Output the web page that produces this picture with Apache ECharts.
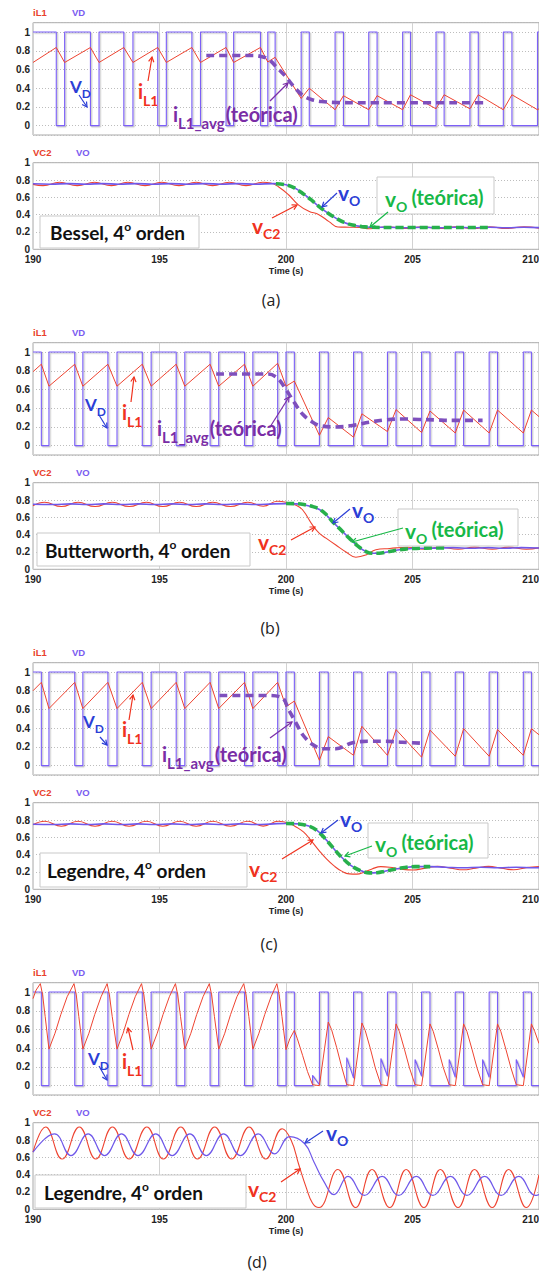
<!DOCTYPE html>
<html><head><meta charset="utf-8">
<script src="https://cdn.jsdelivr.net/npm/echarts@6/dist/echarts.min.js"></script>
<style>html,body{margin:0;padding:0;background:#fff}#c{width:539px;height:1281px}</style>
</head><body><div id="c"></div>
<script>
// ---------------- DATA ----------------
const xTicks = [190, 195, 200, 205, 210];
const yTicksTop = [0, 0.2, 0.4, 0.6, 0.8, 1];
const yTicksBot = [0, 0.2, 0.4, 0.6, 0.8, 1];

// Panel (a) Bessel
const vdEdgesA = [190.92,191.25,192.27,192.61,193.59,193.95,194.93,195.27,196.28,196.62,197.63,197.93,198.99,199.28,199.57,200.60,200.92,201.94,202.27,203.27,203.60,204.61,204.92,205.93,206.25,207.27,207.60,208.59,208.93,209.94];
const iL1A = [[190,0.675],[190.92,0.835],[191.25,0.675],[192.27,0.835],[192.61,0.675],[193.59,0.835],[193.95,0.675],[194.93,0.835],[195.27,0.675],[196.28,0.835],[196.62,0.675],[197.63,0.835],[197.93,0.675],[198.99,0.835],[199.28,0.68],[199.57,0.73],[200.60,0.29],[200.92,0.40],[201.94,0.17],[202.27,0.32],[203.27,0.17],[203.60,0.32],[204.61,0.17],[204.92,0.33],[205.93,0.18],[206.25,0.33],[207.27,0.18],[207.60,0.33],[208.59,0.17],[208.93,0.33],[209.94,0.17],[210,0.18]];
const avgA = [[196.85,0.75],[198.7,0.75],[199.0,0.74],[199.3,0.71],[199.65,0.62],[200.0,0.52],[200.3,0.42],[200.63,0.33],[201.0,0.28],[201.4,0.258],[202.0,0.247],[203.0,0.245],[207.8,0.245]];
const vc2A = [[190,0.75],[190.4,0.735],[191.05,0.774],[191.75,0.735],[192.43,0.774],[193.1,0.735],[193.75,0.774],[194.43,0.735],[195.09,0.774],[195.77,0.735],[196.45,0.774],[197.1,0.735],[197.76,0.774],[198.42,0.735],[199.08,0.774],[199.4,0.765],[199.7,0.723],[200.1,0.63],[200.5,0.51],[200.9,0.44],[201.3,0.40],[201.7,0.32],[202.05,0.258],[202.5,0.255],[202.9,0.253],[203.3,0.237],[204.0,0.26],[204.7,0.24],[205.4,0.26],[206.05,0.24],[206.7,0.26],[207.4,0.24],[208.05,0.26],[208.7,0.24],[209.4,0.26],[210,0.245]];
const voA = [[190,0.757],[190.7,0.752],[191.4,0.758],[192.1,0.752],[192.75,0.758],[193.4,0.752],[194.1,0.758],[194.75,0.752],[195.45,0.758],[196.1,0.752],[196.8,0.758],[197.45,0.752],[198.1,0.758],[198.8,0.752],[199.5,0.758],[200.0,0.745],[200.33,0.71],[200.66,0.645],[201.0,0.57],[201.32,0.49],[201.65,0.42],[201.97,0.36],[202.3,0.31],[202.63,0.28],[203.0,0.262],[203.3,0.255],[204.0,0.255],[204.7,0.248],[205.4,0.255],[206.05,0.248],[206.7,0.255],[207.4,0.248],[208.05,0.255],[208.7,0.248],[209.4,0.255],[210,0.25]];
const voTheoA = [[199.6,0.757],[200.0,0.745],[200.33,0.71],[200.66,0.645],[201.0,0.57],[201.32,0.49],[201.65,0.42],[201.97,0.36],[202.3,0.31],[202.63,0.28],[203.0,0.262],[203.3,0.255],[204.0,0.252],[208.0,0.252]];

// Panel (b) Butterworth
const vdEdgesB = [190.33,190.63,191.65,191.97,192.96,193.32,194.32,194.67,195.66,196.0,197.0,197.34,198.36,198.69,199.67,200.0,200.33,201.32,201.67,202.67,203.0,204.01,204.35,205.36,205.69,206.69,207.02,208.03,208.36,209.38,209.7];
const iL1B = [[190,0.79],[190.33,0.87],[190.63,0.635],[191.65,0.87],[191.97,0.635],[192.96,0.87],[193.32,0.635],[194.32,0.87],[194.67,0.635],[195.66,0.87],[196.0,0.635],[197.0,0.87],[197.34,0.635],[198.36,0.87],[198.69,0.635],[199.67,0.88],[200.0,0.635],[200.33,0.69],[201.32,0.11],[201.67,0.30],[202.67,0.09],[203.0,0.34],[204.01,0.15],[204.35,0.385],[205.36,0.14],[205.69,0.37],[206.69,0.135],[207.02,0.38],[208.03,0.135],[208.36,0.38],[209.38,0.135],[209.7,0.38],[210,0.31]];
const avgB = [[197.24,0.765],[199.3,0.765],[199.67,0.72],[200.0,0.60],[200.33,0.46],[200.66,0.335],[201.0,0.26],[201.32,0.215],[201.97,0.20],[202.63,0.215],[203.28,0.25],[203.94,0.275],[204.6,0.285],[205.26,0.28],[205.92,0.275],[206.45,0.27],[207.77,0.27]];
const vc2B = [[190,0.735],[190.46,0.774],[191.12,0.725],[191.78,0.774],[192.45,0.725],[193.13,0.774],[193.8,0.725],[194.48,0.774],[195.13,0.725],[195.79,0.774],[196.45,0.725],[197.1,0.774],[197.8,0.725],[198.49,0.774],[199.1,0.728],[199.66,0.785],[200.0,0.775],[200.4,0.74],[200.66,0.685],[201.05,0.51],[201.32,0.415],[201.58,0.36],[201.97,0.28],[202.37,0.20],[202.76,0.14],[203.16,0.165],[203.55,0.225],[204.1,0.24],[204.8,0.255],[205.45,0.232],[206.1,0.256],[206.8,0.232],[207.45,0.256],[208.15,0.232],[208.8,0.256],[209.5,0.232],[210,0.248]];
const voB = [[190,0.752],[190.8,0.748],[191.5,0.756],[192.15,0.748],[192.8,0.756],[193.5,0.748],[194.15,0.756],[194.8,0.748],[195.5,0.756],[196.15,0.748],[196.8,0.756],[197.5,0.748],[198.15,0.756],[198.8,0.748],[199.5,0.756],[200.0,0.758],[200.4,0.755],[200.7,0.745],[201.05,0.72],[201.32,0.69],[201.58,0.63],[201.84,0.55],[202.17,0.455],[202.5,0.36],[202.83,0.27],[203.16,0.205],[203.42,0.185],[203.69,0.185],[204.0,0.2],[204.35,0.22],[205.0,0.24],[205.9,0.245],[206.6,0.25],[207.3,0.243],[208.0,0.25],[208.6,0.243],[209.3,0.25],[210,0.246]];
const voTheoB = [[200.0,0.76],[200.4,0.758],[200.7,0.748],[201.05,0.725],[201.32,0.695],[201.58,0.635],[201.84,0.55],[202.17,0.455],[202.5,0.36],[202.83,0.27],[203.16,0.205],[203.42,0.185],[203.69,0.185],[204.0,0.2],[204.35,0.22],[204.7,0.233],[205.0,0.24],[205.5,0.245],[206.3,0.247]];

// Panel (c) Legendre
const vdEdgesC = [190.33,190.63,191.65,191.97,192.96,193.32,194.32,194.67,195.66,196.0,197.0,197.34,198.36,198.69,199.67,200.0,200.33,201.32,201.67,202.67,203.0,204.01,204.35,205.36,205.69,206.69,207.02,208.03,208.36,209.38,209.7];
const iL1C = [[190,0.80],[190.33,0.89],[190.63,0.61],[191.65,0.89],[191.97,0.61],[192.96,0.89],[193.32,0.61],[194.32,0.89],[194.67,0.61],[195.66,0.89],[196.0,0.61],[197.0,0.89],[197.34,0.61],[198.36,0.89],[198.69,0.61],[199.67,0.89],[200.0,0.63],[200.33,0.69],[201.32,0.057],[201.67,0.31],[202.67,0.11],[203.0,0.42],[204.01,0.11],[204.35,0.385],[205.36,0.09],[205.69,0.38],[206.69,0.10],[207.02,0.395],[208.03,0.10],[208.36,0.385],[209.38,0.11],[209.7,0.395],[210,0.33]];
const avgC = [[197.37,0.75],[199.3,0.75],[199.87,0.72],[200.1,0.60],[200.4,0.455],[200.66,0.33],[201.05,0.225],[201.45,0.18],[201.97,0.18],[202.63,0.245],[203.28,0.26],[203.94,0.26],[204.6,0.25],[205.33,0.24]];
const vc2C = [[190,0.745],[190.46,0.785],[191.12,0.728],[191.78,0.785],[192.45,0.728],[193.13,0.785],[193.8,0.728],[194.48,0.785],[195.13,0.728],[195.79,0.785],[196.45,0.728],[197.1,0.785],[197.8,0.728],[198.49,0.785],[199.1,0.73],[199.7,0.785],[200.1,0.765],[200.4,0.72],[200.7,0.66],[201.0,0.56],[201.3,0.45],[201.6,0.35],[201.9,0.27],[202.2,0.21],[202.5,0.178],[202.8,0.175],[203.1,0.2],[203.4,0.235],[203.75,0.262],[204.1,0.255],[204.5,0.235],[205.0,0.222],[205.5,0.245],[206.0,0.265],[206.5,0.245],[207.0,0.225],[207.5,0.245],[208.0,0.265],[208.5,0.245],[209.0,0.225],[209.5,0.25],[210,0.262]];
const voC = [[190,0.752],[190.8,0.748],[191.5,0.756],[192.15,0.748],[192.8,0.756],[193.5,0.748],[194.15,0.756],[194.8,0.748],[195.5,0.756],[196.15,0.748],[196.8,0.756],[197.5,0.748],[198.15,0.756],[198.8,0.748],[199.5,0.756],[200.0,0.76],[200.5,0.755],[200.9,0.73],[201.2,0.685],[201.5,0.6],[201.8,0.5],[202.1,0.4],[202.4,0.315],[202.7,0.25],[203.0,0.21],[203.3,0.19],[203.6,0.192],[203.9,0.208],[204.3,0.232],[204.7,0.252],[205.1,0.262],[205.7,0.262],[206.3,0.255],[207.0,0.248],[207.7,0.255],[208.4,0.248],[209.1,0.255],[209.8,0.248],[210,0.25]];
const voTheoC = [[200.0,0.76],[200.5,0.755],[200.9,0.73],[201.2,0.685],[201.5,0.6],[201.8,0.5],[202.1,0.4],[202.4,0.315],[202.7,0.25],[203.0,0.21],[203.3,0.19],[203.6,0.192],[203.9,0.208],[204.3,0.232],[204.7,0.252],[205.1,0.262],[205.7,0.262]];

// Panel (d) Legendre (no theoretical curves)
const vdEdgesDPre = [190.33,190.63,191.65,191.97,192.96,193.32,194.32,194.67,195.66,196.0,197.0,197.34,198.36,198.69,199.67,200.0];
const vdDPost = [[200.33,1],[200.33,0],[201.05,0],[201.05,0.11],[201.32,0.01],[201.32,1],[201.67,1],[201.67,0],[202.4,0],[202.4,0.30],[202.67,0.08],[202.67,1],[203.0,1],[203.0,0],[203.75,0],[203.75,0.29],[204.01,0.10],[204.01,1],[204.35,1],[204.35,0],[205.1,0],[205.1,0.28],[205.36,0.10],[205.36,1],[205.69,1],[205.69,0],[206.45,0],[206.45,0.28],[206.69,0.09],[206.69,1],[207.02,1],[207.02,0],[207.77,0],[207.77,0.28],[208.03,0.09],[208.03,1],[208.36,1],[208.36,0],[209.1,0],[209.1,0.28],[209.38,0.09],[209.38,1],[209.7,1],[209.7,0],[210,0]];
const iL1D = [[190,0.93],[190.12,1.02],[190.29,1.09],[190.38,0.97],[190.48,0.74],[190.63,0.39],
[190.87,0.56],[191.1,0.76],[191.35,0.95],[191.62,1.09],[191.71,0.97],[191.81,0.74],[191.97,0.39],
[192.21,0.56],[192.44,0.76],[192.69,0.95],[192.93,1.09],[193.02,0.97],[193.13,0.74],[193.32,0.39],
[193.56,0.56],[193.79,0.76],[194.04,0.95],[194.29,1.09],[194.38,0.97],[194.49,0.74],[194.67,0.39],
[194.91,0.56],[195.14,0.76],[195.39,0.95],[195.63,1.09],[195.72,0.97],[195.83,0.74],[196.0,0.39],
[196.24,0.56],[196.47,0.76],[196.72,0.95],[196.97,1.09],[197.06,0.97],[197.17,0.74],[197.34,0.39],
[197.58,0.56],[197.81,0.76],[198.06,0.95],[198.33,1.09],[198.42,0.97],[198.53,0.74],[198.69,0.39],
[198.93,0.56],[199.16,0.76],[199.41,0.95],[199.64,1.09],[199.73,0.97],[199.84,0.74],[200.0,0.385],
[200.15,0.50],[200.33,0.59],[200.45,0.50],[200.66,0.32],[200.85,0.15],[201.05,0.01],[201.32,0.0],
[201.67,0.68],[201.8,0.6],[202.0,0.41],[202.2,0.2],[202.4,0.01],[202.67,0.0],
[203.0,0.67],[203.13,0.59],[203.33,0.40],[203.53,0.19],[203.75,0.01],[204.01,0.0],
[204.35,0.66],[204.48,0.58],[204.68,0.39],[204.88,0.19],[205.1,0.01],[205.36,0.0],
[205.69,0.66],[205.82,0.58],[206.02,0.39],[206.22,0.19],[206.45,0.01],[206.69,0.0],
[207.02,0.66],[207.15,0.58],[207.35,0.39],[207.55,0.19],[207.77,0.01],[208.03,0.0],
[208.36,0.66],[208.49,0.58],[208.69,0.39],[208.89,0.19],[209.1,0.01],[209.38,0.0],
[209.7,0.66],[209.83,0.58],[210,0.45]];
const vc2D = [[190,0.66],[190.5,0.95],[191.15,0.58],[191.83,0.95],[192.48,0.58],[193.14,0.95],[193.8,0.58],[194.5,0.95],[195.15,0.58],[195.84,0.95],[196.5,0.58],[197.18,0.95],[197.85,0.58],[198.54,0.95],[199.2,0.58],[199.85,0.93],[200.2,0.8],[200.5,0.52],[200.8,0.25],[201.05,0.07],[201.3,0.02],[202.05,0.46],[202.75,0.02],[203.4,0.46],[204.1,0.02],[204.75,0.46],[205.45,0.02],[206.1,0.46],[206.8,0.02],[207.45,0.46],[208.15,0.02],[208.8,0.46],[209.5,0.02],[210,0.4]];
const voD = [[190,0.66],[190.85,0.87],[191.5,0.62],[192.18,0.87],[192.83,0.62],[193.5,0.87],[194.15,0.62],[194.85,0.87],[195.5,0.62],[196.2,0.87],[196.85,0.62],[197.53,0.87],[198.2,0.62],[198.9,0.87],[199.55,0.64],[200.15,0.84],[200.73,0.76],[201.1,0.55],[201.5,0.32],[201.9,0.17],[202.45,0.38],[203.1,0.16],[203.8,0.38],[204.45,0.16],[205.15,0.38],[205.8,0.16],[206.5,0.38],[207.15,0.16],[207.85,0.38],[208.5,0.16],[209.2,0.38],[209.85,0.16],[210,0.17]];

// ---------------- BUILD ----------------
function stepPts(edges, startLevel) {
  let lv = startLevel; const p = [[190, lv]];
  for (const e of edges) { p.push([e, lv]); lv = 1 - lv; p.push([e, lv]); }
  return p;
}
function stepEnd(edges, startLevel) {
  const p = stepPts(edges, startLevel); p.push([210, p[p.length - 1][1]]); return p;
}
const panels = [
  { vd: stepEnd(vdEdgesA, 1), il: iL1A, avg: avgA, vc2: vc2A, vo: voA, voT: voTheoA },
  { vd: stepEnd(vdEdgesB, 1), il: iL1B, avg: avgB, vc2: vc2B, vo: voB, voT: voTheoB },
  { vd: stepEnd(vdEdgesC, 1), il: iL1C, avg: avgC, vc2: vc2C, vo: voC, voT: voTheoC },
  { vd: stepPts(vdEdgesDPre, 1).concat(vdDPost), il: iL1D, avg: null, vc2: vc2D, vo: voD, voT: null }
];

const RED = '#ee4431', VDC = '#7b5ef7', VOC = '#6f58ea', AVG = '#7e4fbd', GRN = '#27b04b';
const TICKFONT = 'Liberation Sans';
const OFF = [0, 320, 640, 960];
const grids = [], xAxes = [], yAxes = [], series = [];
const labelBase = { fontSize: 10, fontWeight: 'bold', color: '#222', fontFamily: TICKFONT };

OFF.forEach((o, k) => {
  const p = panels[k];
  [[22.7, 112.3, true], [162.7, 86.6, false]].forEach(([top, h, isTop], j) => {
    const gi = grids.length;
    grids.push({ left: 33, width: 506, top: top + o, height: h, show: true, borderColor: '#a9a9a9', borderWidth: 1, containLabel: false, outerBoundsMode: 'none' });
    xAxes.push({
      type: 'value', gridIndex: gi, min: xTicks[0], max: xTicks[xTicks.length - 1], interval: 5,
      axisLine: { show: false }, axisTick: { show: false },
      axisLabel: Object.assign({ show: !isTop, margin: 5, hideOverlap: false, alignMaxLabel: 'right' }, labelBase),
      splitLine: { show: true, lineStyle: { color: '#d2d2d2', width: 1 } },
      name: isTop ? '' : 'Time (s)', nameLocation: 'middle', nameGap: 17,
      nameTextStyle: { fontSize: 9, fontWeight: 'bold', color: '#222', fontFamily: TICKFONT }
    });
    const yt = isTop ? yTicksTop : yTicksBot;
    yAxes.push(Object.assign({
      type: 'value', gridIndex: gi,
      axisLine: { show: false }, axisTick: { show: false },
      splitLine: { show: true, lineStyle: { color: '#bdbdbd', width: 1, type: [1, 2] } }
    }, isTop ? { min: -0.1, max: 1.1, splitNumber: 6, axisLabel: Object.assign({ margin: 3, showMinLabel: false, showMaxLabel: false }, labelBase) }
             : { min: yt[0], max: yt[yt.length - 1], interval: 0.2, axisLabel: Object.assign({ margin: 3 }, labelBase) }));
    const L = (data, color, width, extra) => Object.assign({
      type: 'line', xAxisIndex: gi, yAxisIndex: gi, data, showSymbol: false, symbol: 'none',
      lineStyle: { color, width }, animation: false, silent: true
    }, extra || {});
    if (isTop) {
      series.push(L(p.vd, VDC, 1.1, { z: 2, lineStyle: { color: VDC, width: 1.1, shadowColor: 'rgba(120,120,120,0.45)', shadowOffsetX: 1.3, shadowOffsetY: 1.2, shadowBlur: 0 } }));
      series.push(L(p.il, RED, 1, { z: 3 }));
      if (p.avg) series.push(L(p.avg, AVG, 3.6, { z: 4, smooth: 0.35, lineStyle: { color: AVG, width: 3.6, type: [8, 5], cap: 'butt' } }));
    } else {
      series.push(L(p.vc2, RED, 1.1, { z: 2, smooth: 0.45 }));
      series.push(L(p.vo, VOC, k === 3 ? 1.2 : 1.6, { z: 3, smooth: 0.45 }));
      if (p.voT) series.push(L(p.voT, GRN, 3.6, { z: 4, smooth: 0.35, lineStyle: { color: GRN, width: 3.6, type: [8, 4], cap: 'butt' } }));
    }
  });
});

// ---------------- ANNOTATIONS ----------------
const G = [];
const mctx = document.createElement('canvas').getContext('2d');
function tw(s, size, w, f) { mctx.font = `${w} ${size}px ${f}`; return mctx.measureText(s).width; }
function txt(x, y, s, color, size, w, f, align) {
  G.push({ type: 'text', x, y, z: 100, silent: true, style: { text: s, fill: color, fontSize: size, fontWeight: w, fontFamily: f,
    textAlign: align || 'left', textVerticalAlign: 'middle', align: align || 'left', verticalAlign: 'middle' } });
}
function seq(x, y, parts, color, w, f) {
  w = w || 'bold'; f = f || 'Lato';
  let cx = x;
  for (const pt of parts) {
    const [s, size, dy = 0, gap = 0] = pt;
    cx += gap; txt(cx, y + dy, s, color, size, w, f); cx += tw(s, size, w, f);
  }
}
function arrow(x1, y1, x2, y2, color) {
  G.push({ type: 'line', z: 99, silent: true, shape: { x1, y1, x2, y2 }, style: { stroke: color, lineWidth: 1.2 } });
  const a = Math.atan2(y2 - y1, x2 - x1), Lh = 5.5, sp = 0.5;
  G.push({ type: 'polyline', z: 99, silent: true, shape: { points: [[x2 - Lh * Math.cos(a - sp), y2 - Lh * Math.sin(a - sp)], [x2, y2], [x2 - Lh * Math.cos(a + sp), y2 - Lh * Math.sin(a + sp)]] }, style: { stroke: color, lineWidth: 1.2, fill: null } });
}
function box(x, y, w, h) {
  G.push({ type: 'rect', z: 98, silent: true, shape: { x, y, width: w, height: h }, style: { fill: '#fff', stroke: '#c9c9c9', lineWidth: 1 } });
}
const BLU = '#2b3ed6', REDT = '#f0321e', PUR = '#7a2da6', GRT = '#17b847', BLK = '#111';

// legend-like series labels
OFF.forEach(o => {
  txt(33, 12 + o, 'iL1', '#e8412c', 9.5, 'bold', TICKFONT);
  txt(72, 12 + o, 'VD', '#7a5cf0', 9.5, 'bold', TICKFONT);
  txt(33, 152 + o, 'VC2', '#e8412c', 9.5, 'bold', TICKFONT);
  txt(76, 152 + o, 'VO', '#7a5cf0', 9.5, 'bold', TICKFONT);
});

// (a)
seq(70, 86, [['V', 17], ['D', 12, 7]], BLU); arrow(79, 95, 87, 107, BLU);
seq(138, 91, [['i', 20], ['L1', 14, 9]], REDT); arrow(148, 81, 152, 57, REDT);
seq(173, 114, [['i', 20], ['L1_avg', 15, 9], ['(teórica)', 20, 0, 1]], PUR); arrow(270, 101, 288, 83, PUR);
seq(338, 192, [['v', 21], ['O', 14, 8]], BLU); arrow(337, 193, 322, 207, BLU);
box(377, 177, 117, 37); seq(385, 198, [['v', 21], ['O', 14, 8], ['(teórica)', 20, -1, 4]], GRT); arrow(388, 212, 370, 227, GRT);
seq(252, 225, [['v', 21], ['C2', 14, 8]], REDT); arrow(272, 218, 297, 205, REDT);
box(40, 216, 159, 32); seq(50, 232, [['Bessel, 4', 19], ['o', 12, -6], [' orden', 19]], BLK);

// (b)
seq(85, 404, [['V', 17], ['D', 12, 7]], BLU); arrow(99, 415, 107, 428, BLU);
seq(122, 412, [['i', 20], ['L1', 14, 9]], REDT); arrow(131, 402, 134, 377, REDT);
seq(157, 428, [['i', 20], ['L1_avg', 15, 9], ['(teórica)', 20, 0, 1]], PUR); arrow(270, 427, 289, 397, PUR);
seq(352, 509, [['v', 21], ['O', 14, 8]], BLU); arrow(350, 509, 333, 523, BLU);
box(398, 509, 120, 37); seq(405, 530, [['v', 21], ['O', 14, 8], ['(teórica)', 20, -1, 4]], GRT); arrow(403, 528, 352, 542, GRT);
seq(258, 541, [['v', 21], ['C2', 14, 8]], REDT); arrow(291, 540, 315, 527, REDT);
box(37, 533, 213, 33); seq(45, 550, [['Butterworth, 4', 19], ['o', 12, -6], [' orden', 19]], BLK);

// (c)
seq(83, 721, [['V', 17], ['D', 12, 7]], BLU); arrow(100, 737, 107, 745, BLU);
seq(122, 729, [['i', 20], ['L1', 14, 9]], REDT); arrow(129, 720, 133, 695, REDT);
seq(162, 754, [['i', 20], ['L1_avg', 15, 9], ['(teórica)', 20, 0, 1]], PUR); arrow(270, 738, 292, 722, PUR);
seq(340, 818, [['v', 21], ['O', 14, 8]], BLU); arrow(338, 820, 321, 833, BLU);
box(368, 823, 120, 35); seq(375, 843, [['v', 21], ['O', 14, 8], ['(teórica)', 20, -1, 4]], GRT); arrow(372, 846, 345, 856, GRT);
seq(249, 868, [['v', 21], ['C2', 14, 8]], REDT); arrow(282, 859, 313, 840, REDT);
box(40, 853, 207, 34); seq(47, 870, [['Legendre, 4', 19], ['o', 12, -6], [' orden', 19]], BLK);

// (d)
seq(88, 1058, [['V', 17], ['D', 12, 7]], BLU); arrow(99, 1066, 107, 1080, BLU);
seq(122, 1061, [['i', 20], ['L1', 14, 9]], REDT); arrow(133, 1050, 128, 1028, REDT);
seq(326, 1132, [['v', 21], ['O', 14, 8]], BLU); arrow(323, 1131, 305, 1143, BLU);
seq(248, 1188, [['v', 21], ['C2', 14, 8]], REDT); arrow(281, 1182, 300, 1169, REDT);
box(35, 1175, 211, 33); seq(44, 1192, [['Legendre, 4', 19], ['o', 12, -6], [' orden', 19]], BLK);

// panel captions
[['(a)', 271, 300], ['(b)', 270, 628], ['(c)', 269, 944], ['(d)', 257, 1262]].forEach(([s, x, y]) => txt(x, y, s, '#222', 16, 'normal', 'Open Sans', 'center'));

const chart = echarts.init(document.getElementById('c'), null, { renderer: 'svg' });
chart.setOption({
  animation: false, backgroundColor: '#fff',
  textStyle: { fontFamily: TICKFONT },
  grid: grids, xAxis: xAxes, yAxis: yAxes, series, graphic: { elements: G }
});
</script></body></html>
